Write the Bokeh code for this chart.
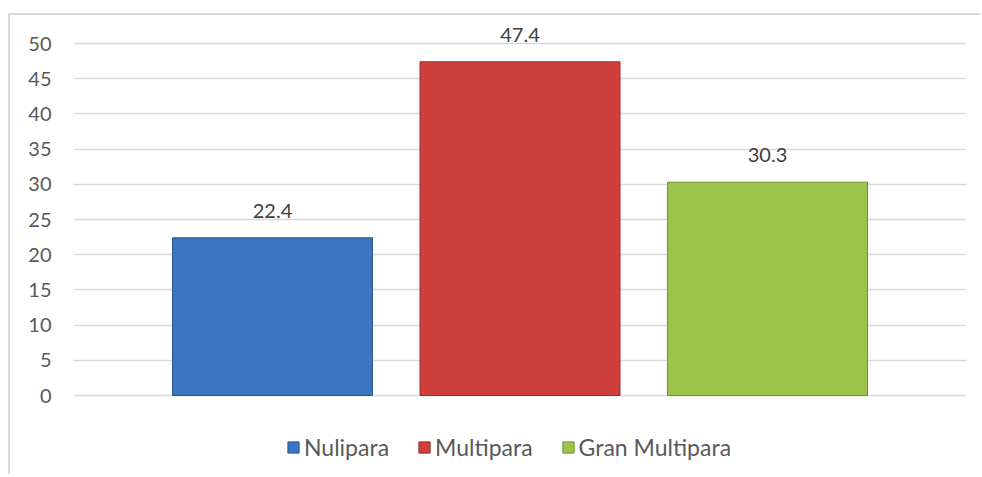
from bokeh.plotting import figure
from bokeh.models import Range1d, FixedTicker, Legend, LegendItem, ColumnDataSource
from bokeh.core.properties import value
from bokeh.embed import file_html
from bokeh.resources import INLINE

# ---- data ----
categories = ["Nulipara", "Multipara", "Gran Multipara"]
values = [22.4, 47.4, 30.3]
labels = ["22.4", "47.4", "30.3"]
y_ticks = [0, 5, 10, 15, 20, 25, 30, 35, 40, 45, 50]

# ---- styles ----
fills = ["#3B74BF", "#CF403D", "#9DC34A"]
edges = ["#2A5690", "#962C2A", "#718E33"]
FONT = "Lato"

# pixel geometry (canvas at page 10,15)
W, H = 972, 461
frame_top_px, frame_bottom_px = 5, 461
zero_px, fifty_px = 380, 28          # canvas y of value 0 and 50
ppu = (zero_px - fifty_px) / 50.0
y_end = 50 + (fifty_px - frame_top_px) / ppu
y_start = -(frame_bottom_px - zero_px) / ppu

xs = list(range(len(categories)))
src = ColumnDataSource(dict(x=xs, top=values, fill=fills, edge=edges,
                            label=labels, cat=categories))

p = figure(width=W, height=H, output_backend="svg", toolbar_location=None,
           x_range=Range1d(-0.804, 2.804), y_range=Range1d(y_start, y_end),
           x_axis_location=None, min_border_left=63, min_border_right=16,
           min_border_top=frame_top_px, min_border_bottom=0)
p.margin = (13, 0, 0, 8)
p.styles = {"border-left": "2px solid #d9d9d9", "border-top": "2px solid #d9d9d9"}
p.outline_line_color = None
p.background_fill_color = "white"
p.border_fill_color = "white"

p.xgrid.visible = False
p.ygrid.ticker = FixedTicker(ticks=y_ticks)
p.ygrid.grid_line_color = "#d9d9d9"
p.ygrid.grid_line_width = 1.5

ax = p.yaxis[0]
ax.ticker = FixedTicker(ticks=y_ticks)
ax.axis_line_color = None
ax.major_tick_line_color = None
ax.minor_tick_line_color = None
ax.major_label_standoff = 16
ax.major_label_text_font = FONT
ax.major_label_text_font_size = "20px"
ax.major_label_text_color = "#595959"

r = p.vbar(x="x", top="top", bottom=0, width=0.808, source=src,
           fill_color="fill", line_color="edge", line_width=1)

p.text(x="x", y="top", text="label", source=src, text_align="center",
       text_baseline="alphabetic", y_offset=-27, text_font=value(FONT),
       text_font_size="20px", text_color="#404040")

items = [LegendItem(label=c, renderers=[r], index=i) for i, c in enumerate(categories)]
legend = Legend(items=items, orientation="horizontal", location=(213, 15),
                glyph_width=14, glyph_height=14, label_standoff=4, spacing=28,
                padding=0, margin=0, label_height=20,
                label_text_font=FONT, label_text_font_size="23px",
                label_text_color="#595959", border_line_color=None,
                background_fill_alpha=0)
p.add_layout(legend)

open("out.html", "w").write(file_html(p, INLINE))
